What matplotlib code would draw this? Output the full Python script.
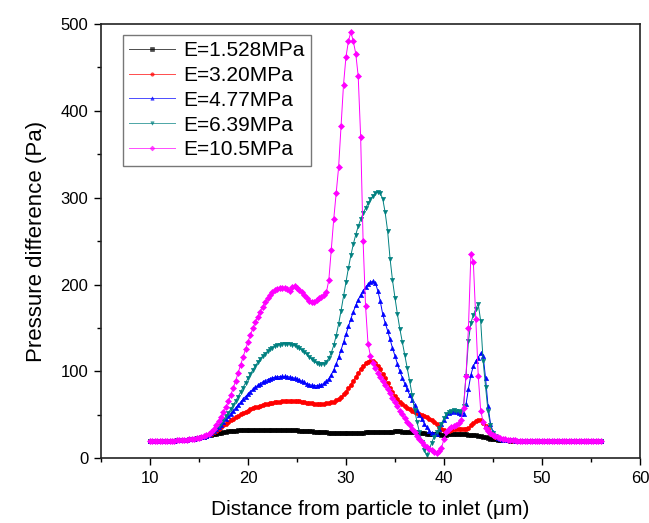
import matplotlib
matplotlib.use('Agg')
import matplotlib.pyplot as plt
import numpy as np
from matplotlib.ticker import MultipleLocator

plt.rcParams['font.family'] = ['Liberation Sans', 'DejaVu Sans']

# distance from particle to inlet (um), sampled every 0.25 um
distance = np.round(np.arange(10.0, 56.001, 0.25), 2)

labels = ['E=1.528MPa', 'E=3.20MPa', 'E=4.77MPa', 'E=6.39MPa', 'E=10.5MPa']

# pressure difference (Pa), one value per sample point
p_1528 = [
    19.5, 19.5, 19.6, 19.6, 19.7, 19.8, 19.9, 20.0, 20.1, 20.2, 20.4, 20.6,
    20.8, 21.0, 21.3, 21.6, 21.9, 22.3, 22.7, 23.2, 23.7, 24.3, 24.9, 25.6,
    26.3, 27.0, 27.7, 28.3, 28.9, 29.5, 30.0, 30.5, 30.9, 31.3, 31.6, 31.9,
    32.1, 32.3, 32.5, 32.7, 32.8, 32.9, 33.0, 33.0, 33.1, 33.1, 33.1, 33.0,
    33.0, 33.0, 33.1, 33.1, 33.0, 33.0, 32.9, 32.8, 32.7, 32.6, 32.4, 32.3,
    32.1, 31.9, 31.7, 31.5, 31.3, 31.1, 30.9, 30.7, 30.5, 30.3, 30.1, 29.9,
    29.8, 29.7, 29.6, 29.5, 29.5, 29.4, 29.4, 29.4, 29.4, 29.4, 29.5, 29.5,
    29.5, 29.6, 29.6, 29.7, 29.8, 29.9, 30.0, 30.1, 30.2, 30.3, 30.4, 30.5,
    30.6, 30.7, 30.8, 30.8, 30.9, 30.9, 30.9, 30.8, 30.7, 30.6, 30.4, 30.2,
    30.0, 29.7, 29.4, 29.1, 28.8, 28.5, 28.2, 28.0, 27.8, 27.6, 27.5, 27.4,
    27.4, 27.4, 27.5, 27.6, 27.7, 27.8, 27.8, 27.8, 27.7, 27.6, 27.4, 27.1,
    26.8, 26.4, 25.9, 25.3, 24.7, 24.0, 23.4, 22.8, 22.3, 21.9, 21.5, 21.2,
    20.9, 20.7, 20.5, 20.4, 20.3, 20.2, 20.1, 20.1, 20.0, 20.0, 20.0, 19.9,
    19.9, 19.9, 19.9, 19.9, 19.8, 19.8, 19.8, 19.8, 19.8, 19.8, 19.8, 19.7,
    19.7, 19.7, 19.7, 19.7, 19.7, 19.7, 19.7, 19.7, 19.7, 19.7, 19.6, 19.6,
    19.6, 19.6, 19.6, 19.6, 19.6,
]
p_320 = [
    19.5, 19.5, 19.6, 19.6, 19.7, 19.8, 19.9, 20.0, 20.1, 20.2, 20.4, 20.6,
    20.8, 21.0, 21.3, 21.6, 21.9, 22.3, 22.7, 23.2, 23.7, 24.3, 25.0, 25.9,
    27.0, 28.5, 30.2, 32.0, 34.0, 36.0, 38.0, 40.0, 42.0, 43.8, 45.6, 47.3,
    49.0, 50.6, 52.1, 53.5, 54.9, 56.2, 57.4, 58.5, 59.5, 60.5, 61.4, 62.2,
    62.9, 63.5, 64.0, 64.5, 64.9, 65.3, 65.6, 65.8, 66.0, 66.1, 66.1, 66.0,
    65.8, 65.5, 65.1, 64.7, 64.2, 63.7, 63.3, 63.0, 62.8, 62.7, 62.7, 62.8,
    63.1, 63.6, 64.3, 65.3, 66.7, 68.5, 70.8, 73.6, 76.9, 80.7, 84.9, 89.4,
    94.0, 98.5, 102.7, 106.3, 109.2, 111.1, 112.0, 111.6, 109.8, 106.6, 102.3, 97.3,
    92.0, 86.6, 81.3, 76.3, 71.9, 68.0, 64.7, 62.0, 59.8, 57.9, 56.3, 54.9,
    53.6, 52.4, 51.2, 50.0, 48.7, 47.2, 45.5, 43.6, 41.4, 39.0, 36.5, 34.2,
    32.4, 31.5, 31.6, 32.4, 33.3, 33.9, 34.0, 33.6, 33.2, 33.5, 35.0, 37.8,
    40.6, 43.0, 44.2, 43.6, 41.2, 37.5, 33.4, 29.6, 26.6, 24.6, 23.2, 22.3,
    21.6, 21.1, 20.8, 20.6, 20.4, 20.3, 20.2, 20.1, 20.1, 20.0, 20.0, 20.0,
    19.9, 19.9, 19.9, 19.9, 19.9, 19.8, 19.8, 19.8, 19.8, 19.8, 19.8, 19.8,
    19.7, 19.7, 19.7, 19.7, 19.7, 19.7, 19.7, 19.7, 19.7, 19.7, 19.7, 19.6,
    19.6, 19.6, 19.6, 19.6, 19.6,
]
p_477 = [
    19.5, 19.5, 19.6, 19.6, 19.7, 19.8, 19.9, 20.0, 20.1, 20.2, 20.4, 20.6,
    20.8, 21.0, 21.3, 21.6, 21.9, 22.3, 22.7, 23.2, 23.7, 24.3, 25.0, 26.0,
    27.2, 29.0, 31.1, 33.5, 36.1, 38.9, 41.9, 45.0, 48.2, 51.5, 54.8, 58.2,
    61.5, 64.8, 68.0, 71.1, 74.0, 76.8, 79.4, 81.8, 84.0, 86.0, 87.8, 89.3,
    90.6, 91.7, 92.6, 93.3, 93.8, 94.1, 94.2, 94.2, 94.0, 93.6, 93.0, 92.2,
    91.2, 90.0, 88.7, 87.3, 86.0, 84.9, 84.1, 83.7, 83.6, 83.9, 84.7, 86.2,
    88.5, 91.8, 96.2, 101.8, 108.5, 116.2, 124.6, 133.6, 142.8, 151.9, 160.6, 168.7,
    176.0, 182.5, 188.1, 192.9, 196.9, 200.2, 202.6, 203.8, 202.0, 193.0, 181.0, 166.0,
    156.0, 147.0, 137.0, 127.0, 118.0, 109.0, 100.0, 93.0, 86.0, 79.5, 73.0, 67.0,
    61.0, 55.5, 50.0, 45.0, 40.0, 35.5, 31.5, 29.0, 28.0, 28.5, 33.5, 39.0,
    44.5, 49.0, 52.0, 53.5, 54.0, 53.5, 52.5, 51.0, 51.5, 62.0, 80.0, 96.0,
    106.0, 112.0, 116.0, 121.0, 118.0, 92.0, 60.0, 40.0, 30.5, 26.0, 23.8, 22.5,
    21.6, 21.1, 20.8, 20.6, 20.5, 20.4, 20.3, 20.2, 20.1, 20.1, 20.0, 20.0,
    20.0, 20.0, 19.9, 19.9, 19.9, 19.9, 19.9, 19.8, 19.8, 19.8, 19.8, 19.8,
    19.8, 19.7, 19.7, 19.7, 19.7, 19.7, 19.7, 19.7, 19.7, 19.7, 19.7, 19.7,
    19.6, 19.6, 19.6, 19.6, 19.6,
]
p_639 = [
    19.5, 19.5, 19.6, 19.6, 19.7, 19.8, 19.9, 20.0, 20.1, 20.2, 20.4, 20.6,
    20.8, 21.0, 21.3, 21.6, 21.9, 22.3, 22.7, 23.2, 23.7, 24.3, 25.1, 26.1,
    27.4, 29.5, 31.9, 34.6, 37.6, 40.9, 44.5, 48.3, 52.3, 56.6, 61.2, 66.0,
    71.0, 76.2, 81.5, 86.8, 92.0, 97.0, 101.8, 106.3, 110.4, 114.2, 117.6, 120.6,
    123.2, 125.4, 127.3, 128.9, 130.1, 131.0, 131.6, 131.9, 131.9, 131.6, 130.9, 129.9,
    128.5, 126.7, 124.6, 122.2, 119.6, 116.9, 114.2, 111.7, 109.7, 108.5, 108.2, 109.0,
    111.2, 115.2, 121.4, 130.0, 141.0, 154.5, 170.0, 186.5, 203.0, 219.0, 233.5, 246.5,
    257.5, 267.0, 275.0, 282.0, 288.0, 293.5, 298.0, 302.0, 305.0, 306.5, 305.0, 299.0,
    283.0, 262.0, 230.0, 205.0, 185.0, 166.0, 149.0, 134.0, 119.0, 104.0, 89.0, 73.0,
    56.0, 42.0, 30.0, 19.0, 10.0, 3.5, 10.0, 18.0, 25.0, 30.0, 34.5, 40.0,
    46.0, 51.0, 53.5, 55.0, 55.5, 55.0, 54.0, 53.0, 60.0, 95.0, 135.0, 156.0,
    165.0, 172.0, 178.0, 158.0, 112.0, 82.0, 54.0, 38.0, 29.5, 25.5, 23.5, 22.3,
    21.5, 21.0, 20.7, 20.5, 20.4, 20.3, 20.2, 20.1, 20.1, 20.0, 20.0, 20.0,
    19.9, 19.9, 19.9, 19.9, 19.9, 19.8, 19.8, 19.8, 19.8, 19.8, 19.8, 19.8,
    19.7, 19.7, 19.7, 19.7, 19.7, 19.7, 19.7, 19.7, 19.7, 19.7, 19.7, 19.6,
    19.6, 19.6, 19.6, 19.6, 19.6,
]
p_105 = [
    19.5, 19.5, 19.6, 19.6, 19.7, 19.8, 19.9, 20.0, 20.1, 20.2, 20.4, 20.6,
    20.8, 21.0, 21.3, 21.6, 21.9, 22.3, 22.7, 23.2, 23.7, 24.4, 25.2, 26.3,
    27.8, 30.6, 34.0, 38.0, 42.5, 47.5, 53.0, 59.0, 65.5, 73.0, 81.0, 89.5,
    98.5, 107.5, 116.5, 125.5, 134.0, 142.0, 149.5, 156.5, 163.0, 169.0, 174.5, 179.5,
    184.0, 188.0, 191.0, 193.5, 195.0, 196.0, 196.5, 196.0, 195.0, 193.0, 197.5, 198.0,
    196.5, 194.0, 191.0, 187.5, 184.0, 181.0, 179.5, 180.0, 182.0, 184.0, 185.5, 187.5,
    191.0, 205.0, 240.0, 275.0, 305.0, 335.0, 383.0, 430.0, 462.0, 480.0, 491.0, 480.0,
    466.0, 440.0, 370.0, 250.0, 175.0, 132.0, 118.0, 110.0, 104.0, 98.5, 93.5, 89.0,
    84.5, 80.0, 75.0, 70.0, 65.0, 60.0, 55.0, 50.5, 46.0, 42.0, 38.0, 34.0,
    30.0, 26.0, 22.0, 18.5, 15.5, 13.0, 11.0, 9.0, 7.5, 6.0, 8.0, 12.0,
    22.0, 30.0, 34.0, 36.0, 37.0, 38.5, 40.5, 44.0, 58.0, 95.0, 150.0, 235.0,
    226.0, 160.0, 95.0, 55.0, 42.0, 35.0, 31.5, 29.0, 27.0, 25.5, 24.3, 23.4,
    22.7, 22.1, 21.6, 21.2, 20.9, 20.6, 20.4, 20.3, 20.2, 20.1, 20.1, 20.0,
    20.0, 20.0, 19.9, 19.9, 19.9, 19.9, 19.9, 19.8, 19.8, 19.8, 19.8, 19.8,
    19.8, 19.7, 19.7, 19.7, 19.7, 19.7, 19.7, 19.7, 19.7, 19.7, 19.7, 19.7,
    19.6, 19.6, 19.6, 19.6, 19.6,
]

series = [p_1528, p_320, p_477, p_639, p_105]
colors = ['#000000', '#ff0000', '#0000ff', '#008080', '#ff00ff']
markers = ['s', 'o', '^', 'v', 'D']

fig = plt.figure(figsize=(6.49, 5.23), dpi=100)
ax = fig.add_axes([0.1556, 0.1237, 0.8304, 0.8304])

for values, color, marker, label in zip(series, colors, markers, labels):
    assert len(values) == len(distance), (label, len(values))
    ax.plot(distance, values, color=color, lw=0.7, marker=marker,
            markersize=3.1, markeredgewidth=0.4, label=label)

ax.set_xlim(5, 60)
ax.set_ylim(0, 500)
ax.xaxis.set_major_locator(MultipleLocator(10))
ax.xaxis.set_minor_locator(MultipleLocator(5))
ax.yaxis.set_major_locator(MultipleLocator(100))
ax.yaxis.set_minor_locator(MultipleLocator(50))
ax.tick_params(which='both', direction='out', top=False, right=False,
               labelsize=12, width=1.0)
ax.tick_params(which='major', length=5, pad=4)
ax.tick_params(which='minor', length=3)
for spine in ax.spines.values():
    spine.set_linewidth(1.2)
    spine.set_color('#222222')

ax.set_xlabel('Distance from particle to inlet (\u03bcm)', fontsize=15, labelpad=10)
ax.set_ylabel('Pressure difference (Pa)', fontsize=16, labelpad=10)

leg = ax.legend(loc='upper left', bbox_to_anchor=(0.04, 0.975), borderaxespad=0,
                fontsize=15, numpoints=1, handlelength=2.2, labelspacing=0.28,
                handletextpad=0.4, borderpad=0.3, fancybox=False, framealpha=1,
                markerscale=0.8)
leg.get_frame().set_edgecolor('#777777')
leg.get_frame().set_linewidth(1.0)
for line in leg.get_lines():
    line.set_alpha(0.7)

fig.savefig('out.png', dpi=100)
